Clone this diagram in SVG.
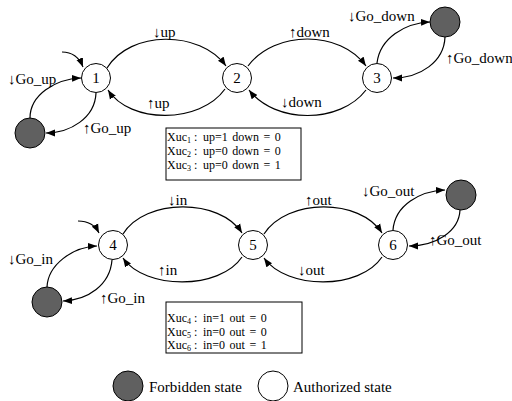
<svg xmlns="http://www.w3.org/2000/svg" width="512" height="401" viewBox="0 0 512 401" font-family="'Liberation Serif', 'Times New Roman', Times, serif">
<defs>
<marker id="ah" markerUnits="userSpaceOnUse" markerWidth="10" markerHeight="8" refX="9" refY="4" orient="auto">
<path d="M0,0.5 L9,4 L0,7.5 Z" fill="#000"/>
</marker>
<style>
.st{fill:#fff;stroke:#000;stroke-width:1}
.fb{fill:#606060;stroke:#000;stroke-width:1}
.num{font-size:15px;text-anchor:middle}
.lbl{font-size:15px}
.box{fill:#fff;stroke:#000;stroke-width:1}
.bt{font-size:12px}
.sub{font-size:8px}
.val{font-size:12px;word-spacing:1.5px}
.e{fill:none;stroke:#000;stroke-width:1.2;marker-end:url(#ah)}
</style>
</defs>
<rect width="512" height="401" fill="#fff"/>
<g id="connectors">
<path class="e" d="M107,68 C130,30 200,30 226,66"/>
<path class="e" d="M225,89 C200,124 130,124 108,90"/>
<path class="e" d="M248,66 C275,30 340,30 366,66"/>
<path class="e" d="M366,90 C340,124 275,124 249,90"/>
<path class="e" d="M62,52 Q77,52 83,67"/>
<path class="e" d="M30,118 C30,95 55,79 81,78"/>
<path class="e" d="M96,93 C95,118 70,133 46,133"/>
<path class="e" d="M377,63 C380,38 405,23 430,22"/>
<path class="e" d="M445,37 C444,62 420,78 393,78"/>
<path class="e" d="M123,234 C145,198 220,198 242,233"/>
<path class="e" d="M242,257 C220,290 145,290 123,258"/>
<path class="e" d="M264,234 C287,198 360,198 382,233"/>
<path class="e" d="M382,257 C360,290 287,290 264,258"/>
<path class="e" d="M78,221 Q93,221 99,233"/>
<path class="e" d="M47,287 C48,265 72,247 97,246"/>
<path class="e" d="M112,260 C110,285 88,300 63,301"/>
<path class="e" d="M393,230 C395,205 420,191 445,190"/>
<path class="e" d="M460,210 C459,232 435,246 409,246"/>
</g>
<g id="n1"><circle class="st" cx="96" cy="78" r="14.5"/><text class="num" x="96" y="83">1</text></g>
<g id="n2"><circle class="st" cx="237" cy="78" r="14.5"/><text class="num" x="237" y="83">2</text></g>
<g id="n3"><circle class="st" cx="377" cy="78" r="14.5"/><text class="num" x="377" y="83">3</text></g>
<g id="f1"><circle class="fb" cx="30" cy="133" r="15"/></g>
<g id="f3"><circle class="fb" cx="445" cy="22" r="15"/></g>
<g id="n4"><circle class="st" cx="113" cy="245" r="14.5"/><text class="num" x="113" y="250">4</text></g>
<g id="n5"><circle class="st" cx="253" cy="245" r="14.5"/><text class="num" x="253" y="250">5</text></g>
<g id="n6"><circle class="st" cx="393" cy="245" r="14.5"/><text class="num" x="393" y="250">6</text></g>
<g id="f4"><circle class="fb" cx="47" cy="302" r="15"/></g>
<g id="f6"><circle class="fb" cx="461" cy="195" r="15"/></g>
<g id="labels">
<text class="lbl" x="153" y="37">↓up</text>
<text class="lbl" x="147" y="108">↑up</text>
<text class="lbl" x="8" y="84">↓Go_up</text>
<text class="lbl" x="83" y="133">↑Go_up</text>
<text class="lbl" x="289" y="37">↑down</text>
<text class="lbl" x="281" y="107">↓down</text>
<text class="lbl" x="348" y="21">↓Go_down</text>
<text class="lbl" x="446" y="63">↑Go_down</text>
<text class="lbl" x="168" y="205">↓in</text>
<text class="lbl" x="158" y="275">↑in</text>
<text class="lbl" x="8" y="264">↓Go_in</text>
<text class="lbl" x="100" y="303">↑Go_in</text>
<text class="lbl" x="305" y="205">↑out</text>
<text class="lbl" x="298" y="275">↓out</text>
<text class="lbl" x="362" y="196">↓Go_out</text>
<text class="lbl" x="429" y="245">↑Go_out</text>
</g>
<g id="table1">
<rect class="box" x="166" y="128" width="135" height="52"/>
<text class="bt" x="167" y="141">Xuc<tspan class="sub" dy="2">1</tspan><tspan dy="-2"> :</tspan><tspan class="val" x="203">up=1 down = 0</tspan></text>
<text class="bt" x="167" y="155">Xuc<tspan class="sub" dy="2">2</tspan><tspan dy="-2"> :</tspan><tspan class="val" x="203">up=0 down = 0</tspan></text>
<text class="bt" x="167" y="169">Xuc<tspan class="sub" dy="2">3</tspan><tspan dy="-2"> :</tspan><tspan class="val" x="203">up=0 down = 1</tspan></text>
</g>
<g id="table2">
<rect class="box" x="166" y="302" width="136" height="51"/>
<text class="bt" x="167" y="322">Xuc<tspan class="sub" dy="2">4</tspan><tspan dy="-2"> :</tspan><tspan class="val" x="203">in=1 out = 0</tspan></text>
<text class="bt" x="167" y="336">Xuc<tspan class="sub" dy="2">5</tspan><tspan dy="-2"> :</tspan><tspan class="val" x="203">in=0 out = 0</tspan></text>
<text class="bt" x="167" y="349">Xuc<tspan class="sub" dy="2">6</tspan><tspan dy="-2"> :</tspan><tspan class="val" x="203">in=0 out = 1</tspan></text>
</g>
<g id="legend">
<circle class="fb" cx="128" cy="386" r="15"/>
<text class="lbl" x="149" y="392">Forbidden state</text>
<circle class="st" cx="273" cy="386" r="15"/>
<text class="lbl" x="293" y="392">Authorized state</text>
</g>
</svg>
